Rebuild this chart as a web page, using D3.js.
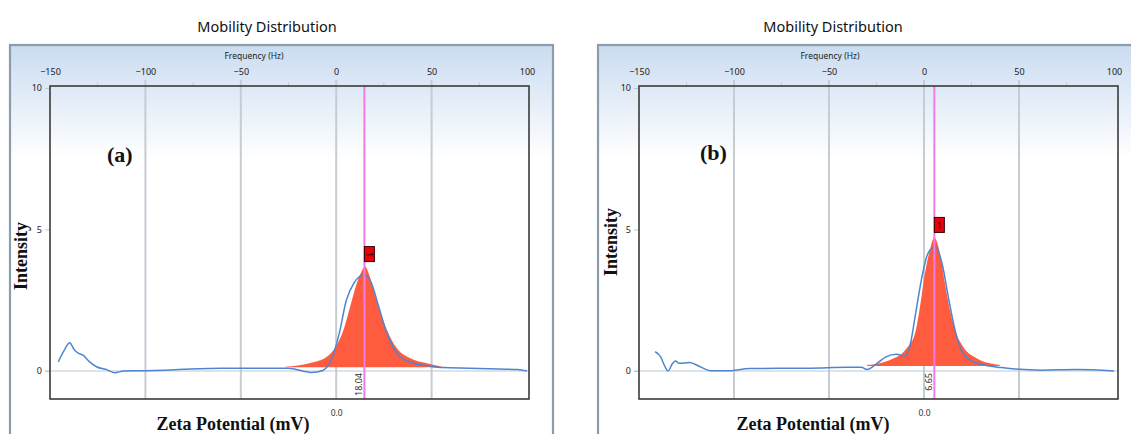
<!DOCTYPE html>
<html>
<head>
<meta charset="utf-8">
<script src="https://cdn.jsdelivr.net/npm/d3@7"></script>
<style>
  body { margin: 0; background: #fff; }
  svg { display: block; }
</style>
</head>
<body>
<div id="chart-area"></div>
<script>
// axis ticks
var freqTicks = [-150, -100, -50, 0, 50, 100];
var freqMinorTicks = [-125, -75, -25, 25, 75];
var intensityTicks = [0, 5, 10];
var zetaTicks = [0];
var mvPerHz = 1.22;

// panel (a) measured curve (frequency Hz, intensity)
var freqA = [-145.7, -142.5, -139.7, -137.2, -135, -132.7, -129.4, -125.6, -120, -116, -111.5,
             -100, -90, -80, -60, -40, -25, -13, -7, -2, 1.6, 5.3, 9.2, 12, 14.5, 17,
             18.5, 22.3, 26, 29.8, 33.5, 39, 48.5, 56, 70, 85, 95, 100];
var intensityA = [0.32, 0.74, 1.0, 0.74, 0.62, 0.56, 0.33, 0.15, 0.04, -0.06, 0.0,
                  0.01, 0.03, 0.06, 0.1, 0.1, 0.1, -0.05, 0.02, 0.5, 1.33, 2.5, 3.1, 3.33, 3.4, 3.3,
                  3.1, 2.27, 1.45, 0.85, 0.5, 0.31, 0.18, 0.12, 0.1, 0.07, 0.05, 0.0];
// panel (a) fitted peak
var fitFreqA = [-26.7, -13.6, -4.9, 0.3, 3.8, 7.3, 10.8, 13.2, 15.2, 17, 18.7, 22.2, 26.6, 31.8, 38.8, 47.5, 55.4];
var fitIntensityA = [0.15, 0.28, 0.5, 0.92, 1.45, 2.27, 3.1, 3.5, 3.69, 3.45, 3.1, 2.27, 1.45, 0.8, 0.45, 0.27, 0.15];
var fitBaseA = 0.13;
var peakZetaA = 18.04;

// panel (b) measured curve
var freqB = [-141.5, -138.6, -136.3, -134.8, -132.3, -130.7, -128.9, -123.4, -117.8, -112.3,
             -101.3, -92, -60, -40, -33, -30, -24.7, -20, -14.5, -10, -7.1, -4.4, -0.7, 2.1,
             5.8, 9.5, 13.1, 15.9, 19.6, 24.1, 31.5, 40.8, 62, 80, 100];
var intensityB = [0.68, 0.5, 0.15, 0.0, 0.27, 0.35, 0.27, 0.3, 0.15, 0.01,
                  0.01, 0.09, 0.1, 0.13, 0.13, 0.05, 0.27, 0.5, 0.59, 0.53, 0.98, 2.04, 3.45, 4.16,
                  4.39, 3.8, 2.5, 1.57, 0.74, 0.39, 0.21, 0.12, 0.03, 0.05, 0.0];
// panel (b) fitted peak
var fitFreqB = [-30, -17.8, -9.1, -4.7, -2.1, 0.5, 3.1, 5.4, 8.4, 11, 13.6, 16.3, 20.6, 27.7, 34.6, 39.9];
var fitIntensityB = [0.21, 0.39, 0.8, 1.33, 2.27, 3.45, 4.28, 4.72, 4.16, 3.1, 2.16, 1.45, 0.86, 0.45, 0.27, 0.21];
var fitBaseB = 0.18;
var peakZetaB = 6.65;

var svgWidth = 1131;
var svgHeight = 434;

var svg = d3.select("#chart-area")
            .append("svg")
            .attr("width", svgWidth)
            .attr("height", svgHeight);

var defs = svg.append("defs");
var grad = defs.append("linearGradient")
               .attr("id", "frameGrad")
               .attr("x1", 0).attr("y1", 0).attr("x2", 0).attr("y2", 1);
grad.append("stop").attr("offset", "0").attr("stop-color", "#cadcf1");
grad.append("stop").attr("offset", "0.27").attr("stop-color", "#ffffff");

var sans = "'Noto Sans', 'DejaVu Sans', sans-serif";
var serif = "'Liberation Serif', 'Times New Roman', serif";

function drawPanel(p) {
    var g = svg.append("g");

    // title
    g.append("text")
     .attr("x", p.titleX).attr("y", 32)
     .attr("text-anchor", "middle")
     .attr("font-family", sans)
     .attr("font-size", "14.5px")
     .attr("fill", "#111")
     .text("Mobility Distribution");

    // outer frame
    g.append("rect")
     .attr("x", p.frameLeft).attr("y", 45)
     .attr("width", p.frameRight - p.frameLeft).attr("height", 420)
     .attr("fill", "url(#frameGrad)")
     .attr("stroke", "#8d9caa")
     .attr("stroke-width", 2.2);

    var x = d3.scaleLinear().domain([-150, 100]).range([p.left, p.right]);
    var y = d3.scaleLinear().domain([0, 10]).range([371, 88]);
    var zeta = d3.scaleLinear().domain([-150 * mvPerHz, 100 * mvPerHz]).range([p.left, p.right]);

    var boxTop = 86, boxBottom = 399;

    // grid lines
    g.selectAll(".grid")
     .data(freqTicks.filter((d) => d > -150 && d < 100))
     .enter().append("line")
     .attr("x1", (d) => x(d)).attr("x2", (d) => x(d))
     .attr("y1", 80).attr("y2", boxBottom)
     .attr("stroke", "#c6ccd2")
     .attr("stroke-width", 2);

    g.selectAll(".minor")
     .data(freqMinorTicks)
     .enter().append("line")
     .attr("x1", (d) => x(d)).attr("x2", (d) => x(d))
     .attr("y1", 82).attr("y2", boxTop)
     .attr("stroke", "#c6ccd2")
     .attr("stroke-width", 1);

    // top frequency axis
    var topAxis = g.append("g")
                   .attr("transform", "translate(0," + 80 + ")")
                   .call(d3.axisTop(x).tickValues(freqTicks).tickSize(0).tickPadding(5));
    topAxis.select(".domain").remove();
    topAxis.selectAll("text")
           .attr("font-family", sans)
           .attr("font-size", "9px")
           .attr("fill", "#222");

    g.append("text")
     .attr("x", p.freqLabelX).attr("y", 59)
     .attr("text-anchor", "middle")
     .attr("font-family", sans)
     .attr("font-size", "8.5px")
     .attr("fill", "#222")
     .text("Frequency (Hz)");

    // zero line
    g.append("line")
     .attr("x1", p.left - 5).attr("x2", p.boxRight)
     .attr("y1", y(0)).attr("y2", y(0))
     .attr("stroke", "#b9c7d6")
     .attr("stroke-width", 1);

    // left intensity axis
    var leftAxis = g.append("g")
                    .attr("transform", "translate(" + p.left + ",0)")
                    .call(d3.axisLeft(y).tickValues(intensityTicks).tickSize(5).tickPadding(3));
    leftAxis.select(".domain").remove();
    leftAxis.selectAll("line").attr("stroke", "#b9c7d6");
    leftAxis.selectAll("text")
            .attr("font-family", sans)
            .attr("font-size", "9px")
            .attr("fill", "#222");

    // bottom zeta axis
    var bottomAxis = g.append("g")
                      .attr("transform", "translate(0," + (boxBottom + 8) + ")")
                      .call(d3.axisBottom(zeta).tickValues(zetaTicks).tickSize(0).tickFormat(d3.format(".1f")));
    bottomAxis.select(".domain").remove();
    bottomAxis.selectAll("text")
              .attr("font-family", sans)
              .attr("font-size", "8.5px")
              .attr("fill", "#333");

    // fitted peak area
    var fit = p.fitFreq.map((d, i) => ({ f: d, v: p.fitIntensity[i] }));
    var area = d3.area()
                 .x((d) => x(d.f))
                 .y0(y(p.fitBase))
                 .y1((d) => y(d.v))
                 .curve(d3.curveMonotoneX);
    g.append("path")
     .datum(fit)
     .attr("d", area)
     .attr("fill", "#ff5b3f");

    // measured curve
    var curve = p.freq.map((d, i) => ({ f: d, v: p.intensity[i] }));
    var line = d3.line()
                 .x((d) => x(d.f))
                 .y((d) => y(d.v))
                 .curve(d3.curveMonotoneX);
    g.append("path")
     .datum(curve)
     .attr("d", line)
     .attr("fill", "none")
     .attr("stroke", "#4d86cf")
     .attr("stroke-width", 1.5);

    // peak marker line
    var peakX = zeta(p.peakZeta);
    g.append("line")
     .attr("x1", peakX).attr("x2", peakX)
     .attr("y1", boxTop).attr("y2", boxBottom)
     .attr("stroke", "#f57ae6")
     .attr("stroke-width", 2);

    // peak value label, reads bottom to top, left of the line
    g.append("text")
     .attr("transform", "translate(" + (peakX - 2) + "," + (y(0) + 2) + ") rotate(-90)")
     .attr("text-anchor", "end")
     .attr("font-family", sans)
     .attr("font-size", "9px")
     .attr("fill", "#333")
     .text(p.peakZeta.toFixed(2));

    // peak flag
    var peakTop = y(d3.max(p.fitIntensity));
    var flag = g.append("g")
                .attr("transform", "translate(" + peakX + "," + (peakTop - 20) + ")");
    flag.append("rect")
        .attr("width", 10).attr("height", 15)
        .attr("fill", "#e8000c")
        .attr("stroke", "#3a0000")
        .attr("stroke-width", 1);
    flag.append("text")
        .attr("transform", "translate(5,8)" + (p.flagRotate ? " rotate(90)" : ""))
        .attr("text-anchor", "middle")
        .attr("dy", "0.35em")
        .attr("font-family", sans)
        .attr("font-size", "9px")
        .attr("fill", "#200")
        .text("1");

    // plot box
    g.append("rect")
     .attr("x", p.left).attr("y", boxTop)
     .attr("width", p.boxRight - p.left).attr("height", boxBottom - boxTop)
     .attr("fill", "none")
     .attr("stroke", "#3a3a3a")
     .attr("stroke-width", 1.6);

    // panel letter
    g.append("text")
     .attr("x", p.letterX).attr("y", p.letterY)
     .attr("font-family", serif)
     .attr("font-weight", "bold")
     .attr("font-size", "22px")
     .attr("fill", "#111")
     .text(p.letter);

    // axis titles
    g.append("text")
     .attr("transform", "translate(" + p.intensityX + "," + p.intensityY + ") rotate(-90)")
     .attr("text-anchor", "middle")
     .attr("font-family", serif)
     .attr("font-weight", "bold")
     .attr("font-size", "18px")
     .attr("fill", "#111")
     .text("Intensity");

    g.append("text")
     .attr("x", p.zetaLabelX).attr("y", 430)
     .attr("text-anchor", "middle")
     .attr("font-family", serif)
     .attr("font-weight", "bold")
     .attr("font-size", "18px")
     .attr("fill", "#111")
     .text("Zeta Potential (mV)");
}

drawPanel({
    titleX: 267, frameLeft: 10, frameRight: 553,
    left: 50, right: 527, boxRight: 529,
    freqLabelX: 254,
    freq: freqA, intensity: intensityA,
    fitFreq: fitFreqA, fitIntensity: fitIntensityA, fitBase: fitBaseA,
    peakZeta: peakZetaA, flagRotate: true,
    letter: "(a)", letterX: 107, letterY: 162,
    intensityX: 27, intensityY: 256,
    zetaLabelX: 233
});

drawPanel({
    titleX: 833, frameLeft: 598, frameRight: 1160,
    left: 639, right: 1114, boxRight: 1118,
    freqLabelX: 830,
    freq: freqB, intensity: intensityB,
    fitFreq: fitFreqB, fitIntensity: fitIntensityB, fitBase: fitBaseB,
    peakZeta: peakZetaB, flagRotate: false,
    letter: "(b)", letterX: 700, letterY: 160,
    intensityX: 617, intensityY: 242,
    zetaLabelX: 813
});
</script>
</body>
</html>
